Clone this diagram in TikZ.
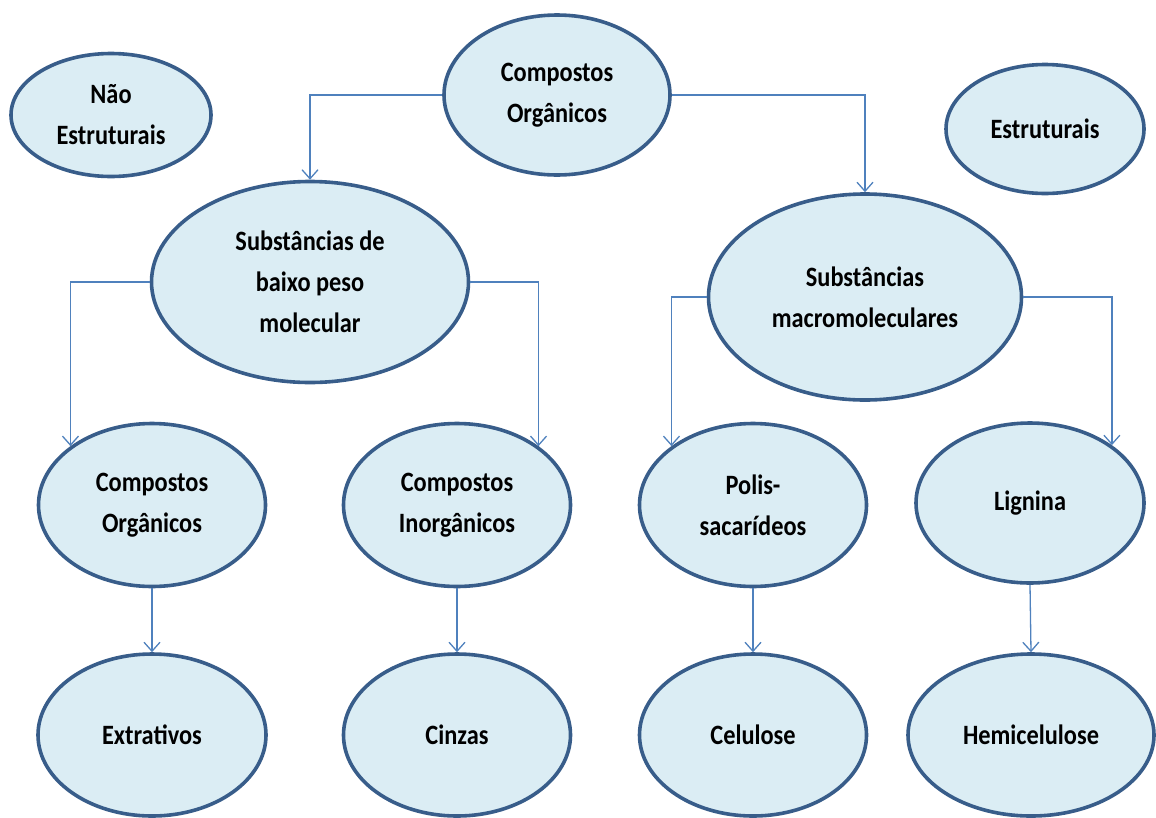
\documentclass[tikz,border=0pt]{standalone}
\usepackage{fontspec}
\newfontfamily\lblfont{Carlito}[FakeStretch=0.87]
\usetikzlibrary{shapes.geometric,arrows.meta}
\definecolor{ellfill}{RGB}{219,237,244}
\definecolor{ellline}{RGB}{56,93,138}
\definecolor{arrline}{RGB}{79,129,189}
\tikzset{
  ell/.style={ellipse, draw=ellline, line width=3.6pt, fill=ellfill, inner sep=0pt,
    align=center, font=\lblfont\bfseries\fontsize{28}{41}\selectfont},
  conn/.style={draw=arrline, line width=1.3pt,
    -{Straight Barb[length=9pt,width=16pt,line width=1.3pt]}}
}
\begin{document}
\begin{tikzpicture}[x=1pt,y=-1pt]
\useasboundingbox (0,0) rectangle (1156,817);
\node[ell, minimum width=226pt, minimum height=160pt] (top) at (557,95) {Compostos\\Orgânicos};
\node[ell, minimum width=200pt, minimum height=123pt] (nao) at (111,115) {Não\\Estruturais};
\node[ell, minimum width=198pt, minimum height=129pt] (est) at (1045,129) {Estruturais};
\node[ell, minimum width=317pt, minimum height=201pt] (baixo) at (310,282) {Substâncias de\\baixo peso\\molecular};
\node[ell, minimum width=313pt, minimum height=206pt] (macro) at (865,297) {Substâncias\\macromoleculares};
\node[ell, minimum width=227pt, minimum height=163pt] (corg) at (152,505) {Compostos\\Orgânicos};
\node[ell, minimum width=227pt, minimum height=163pt] (cinorg) at (457,505) {Compostos\\Inorgânicos};
\node[ell, minimum width=227pt, minimum height=163pt] (polis) at (753,505) {Polis-\\sacarídeos};
\node[ell, minimum width=228pt, minimum height=160pt] (lig) at (1030,503) {Lignina};
\node[ell, minimum width=228pt, minimum height=162pt] (extr) at (152,735) {Extrativos};
\node[ell, minimum width=227pt, minimum height=162pt] (cinz) at (457,735) {Cinzas};
\node[ell, minimum width=227pt, minimum height=162pt] (celu) at (753,735) {Celulose};
\node[ell, minimum width=246pt, minimum height=162pt] (hemi) at (1031,735) {Hemicelulose};
\draw[conn] (top.west) -| (baixo.north);
\draw[conn] (top.east) -| (macro.north);
\draw[conn] (baixo.west) -| (corg.north west);
\draw[conn] (baixo.east) -| (cinorg.north east);
\draw[conn] (macro.west) -| (polis.north west);
\draw[conn] (macro.east) -| (lig.north east);
\draw[conn] (corg.south) -- (extr.north);
\draw[conn] (cinorg.south) -- (cinz.north);
\draw[conn] (polis.south) -- (celu.north);
\draw[conn] (lig.south) -- (hemi.north);
\end{tikzpicture}
\end{document}
